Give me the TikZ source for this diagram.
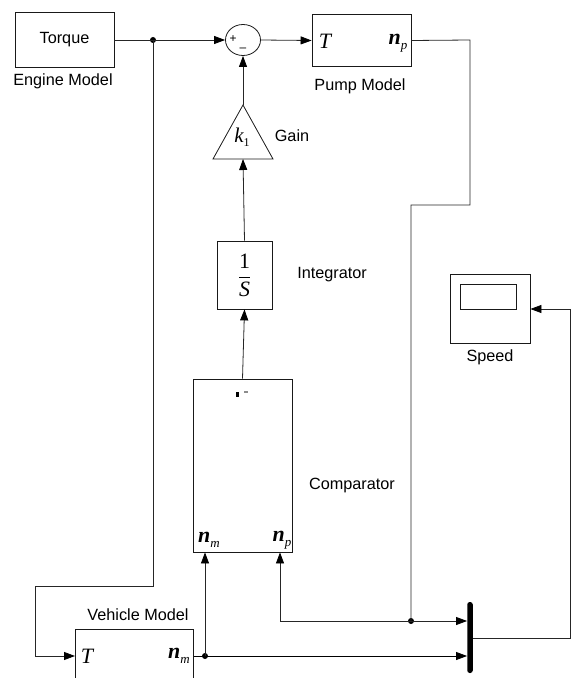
\documentclass[tikz,border=0pt]{standalone}
\usepackage{fontspec}
\setmainfont{Liberation Sans}
\newfontfamily\tms{Liberation Serif}
\usetikzlibrary{arrows.meta,shapes.geometric}
\newcommand{\vT}{{\tms\itshape\fontsize{22}{24}\selectfont T}}
\newcommand{\vn}[1]{{\tms\bfseries\itshape\fontsize{22}{24}\selectfont n\raisebox{-5bp}{\mdseries\fontsize{13}{13}\selectfont #1}}}
\begin{document}
\begin{tikzpicture}[x=1bp,y=-1bp,
  lbl/.style={font=\fontsize{16.3}{18}\selectfont, inner sep=0},
  blk/.style={draw=black!90, line width=0.8bp, inner sep=0},
  wire/.style={draw=black!85, line width=0.8bp},
  arr/.style={wire, -{Triangle[length=11bp,width=8bp,color=black]}},
  dot/.style={circle, fill=black, inner sep=0, minimum size=6bp}]
\useasboundingbox (0,0) rectangle (579,678);
\clip (0,0) rectangle (579,678);
% engine
\node[blk, minimum width=99bp, minimum height=55bp, font=\fontsize{16.3}{18}\selectfont] (eng) at (64.5,40) {Torque};
\node[lbl] (englbl) at (63,81) {Engine Model};
\node[dot] (j1) at (153,40) {};
% sum
\node[draw=black!90, line width=0.8bp, ellipse, minimum width=35bp, minimum height=31bp, inner sep=0] (sum) at (243,40) {};
\node[inner sep=0, font=\fontsize{12}{12}\selectfont] (plus) at (233,39) {+};
\node[inner sep=0, font=\fontsize{12}{12}\selectfont] (minus) at (243,50) {--};
% pump
\node[blk, minimum width=99bp, minimum height=52bp] (pump) at (361.5,40.5) {};
\node[inner sep=0] (pT) at (325,41) {\vT};
\node[inner sep=0] (pn) at (398,43) {\vn{p}};
\node[lbl] (pumplbl) at (360,86) {Pump Model};
% gain
\coordinate (gtop) at (243,105);
\coordinate (gbot) at (243,159);
\draw[blk] (gtop) -- (213,159) -- (273,159) -- cycle;
\node[inner sep=0] (k1) at (242,137) {{\tms\itshape\fontsize{21}{22}\selectfont k\raisebox{-4bp}{\upshape\fontsize{12}{12}\selectfont 1}}};
\node[lbl] (gainlbl) at (292,136) {Gain};
% integrator
\node[blk, minimum width=55bp, minimum height=68bp, font=\fontsize{22}{24}\selectfont] (integ) at (244.5,275) {$\displaystyle\frac{\hbox{\tms 1}}{\hbox{\tms\itshape S}}$};
\node[lbl] (intlbl) at (332,275) {Integrator};
% comparator
\node[blk, minimum width=99bp, minimum height=173bp] (comp) at (242.5,465.5) {};
\fill (236,392) rectangle (239,397);
\fill[black!45] (244,391) rectangle (248,393);
\node[inner sep=0] (cn) at (209,540) {\vn{m}};
\node[inner sep=0] (cp) at (282,540) {\vn{p}};
\node[lbl] (complbl) at (352,486) {Comparator};
% vehicle
\node[blk, minimum width=118bp, minimum height=100bp, anchor=north west] (veh) at (75,629) {};
\node[inner sep=0] (vT) at (87,656) {\vT};
\node[inner sep=0] (vn) at (179,656) {\vn{m}};
\node[lbl] (vehlbl) at (138,615) {Vehicle Model};
% bus
\node[fill=black, rounded corners=2.5bp, minimum width=5.5bp, minimum height=71bp, inner sep=0] (bus) at (470,637.5) {};
% speed scope
\node[blk, minimum width=80bp, minimum height=69bp] (spd) at (490,308.5) {};
\node[blk, minimum width=56bp, minimum height=25bp] (spdin) at (488,297) {};
\node[lbl] (spdlbl) at (490,357) {Speed};
% junctions
\node[dot] (j2) at (411,621) {};
\node[dot] (j3) at (205,656) {};
\coordinate (c1) at (153,586);
\coordinate (c2) at (35,586);
\coordinate (c3) at (35,656);
\coordinate (p1) at (470,40);
\coordinate (p2) at (470,205);
\coordinate (p3) at (411,205);
\coordinate (q1) at (280,621);
\coordinate (r1) at (570,638);
\coordinate (r2) at (570,309);
% connectors
\draw[arr] (eng.east) -- (sum.west);
\draw[arr] (j1.center) -- (c1) -- (c2) -- (c3) -- (veh.west |- c3);
\draw[arr] (sum.east) -- (pump.west);
\draw[arr] (gtop) -- (sum.south);
\draw[arr] (integ.north) -- (gbot);
\draw[arr] (comp.north) -- (integ.south);
\draw[wire] (pump.east) -- (p1) -- (p2) -- (p3) -- (j2.center);
\draw[arr] (j2.center) -- (bus.west |- j2);
\draw[arr] (j2.center) -- (q1) -- (q1 |- comp.south);
\draw[wire, draw=black] (veh.east |- j3) -- (j3.center);
\draw[arr, draw=black] (j3.center) -- (bus.west |- j3);
\draw[arr] (j3.center) -- (j3 |- comp.south);
\draw[arr] (bus.east |- r1) -- (r1) -- (r2) -- (spd.east |- r2);
\end{tikzpicture}
\end{document}
